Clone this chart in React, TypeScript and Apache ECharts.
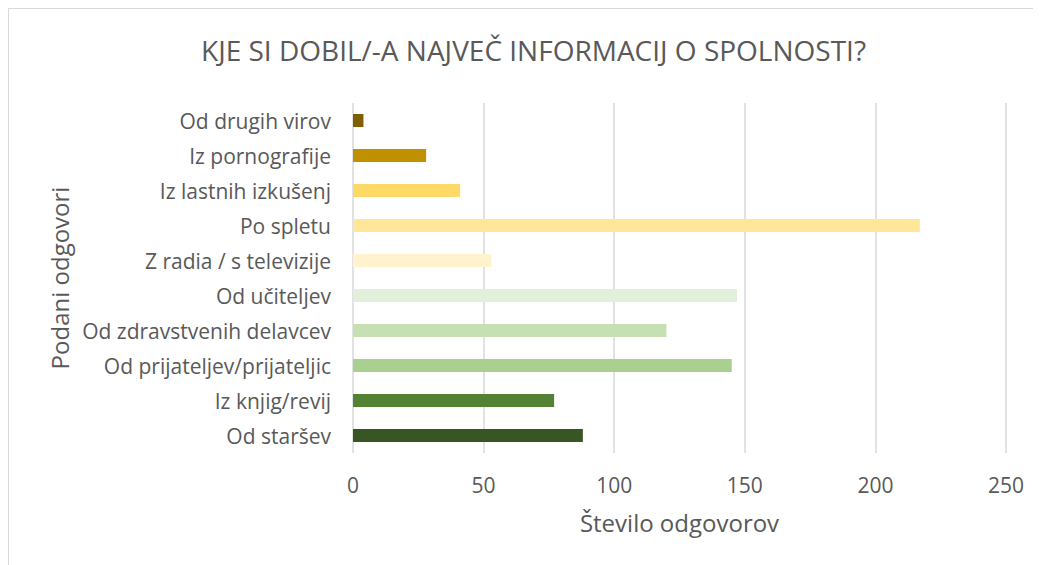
import React, { useEffect, useRef } from "react";
import * as echarts from "echarts";

const categories = [
  "Od drugih virov",
  "Iz pornografije",
  "Iz lastnih izkušenj",
  "Po spletu",
  "Z radia / s televizije",
  "Od učiteljev",
  "Od zdravstvenih delavcev",
  "Od prijateljev/prijateljic",
  "Iz knjig/revij",
  "Od staršev",
];
const values = [4, 28, 41, 217, 53, 147, 120, 145, 77, 88];
const colors = [
  "#7F6000",
  "#BF9000",
  "#FFD966",
  "#FFE699",
  "#FFF2CC",
  "#E2EFDA",
  "#C6E0B4",
  "#A9D08E",
  "#548235",
  "#375623",
];
const titleText = "KJE SI DOBIL/-A NAJVEČ INFORMACIJ O SPOLNOSTI?";
const xName = "Število odgovorov";
const yName = "Podani odgovori";

const FONT = "'Open Sans', sans-serif";

export default function App() {
  const ref = useRef<HTMLDivElement>(null);
  useEffect(() => {
    if (!ref.current) return;
    const chart = echarts.init(ref.current, null, { renderer: "svg" });
    chart.setOption({
      animation: false,
      backgroundColor: "#ffffff",
      title: {
        text: titleText,
        left: 187,
        top: 22,
        textStyle: { fontFamily: FONT, fontSize: 28, fontWeight: "normal", color: "#595959" },
      },
      grid: { left: 344, top: 94, width: 653, height: 350 },
      xAxis: {
        type: "value",
        min: 0,
        max: 250,
        interval: 50,
        name: xName,
        nameLocation: "middle",
        nameGap: 57,
        nameTextStyle: { fontFamily: FONT, fontSize: 24, color: "#595959" },
        axisLine: { show: false },
        axisTick: { show: false },
        axisLabel: { fontFamily: FONT, fontSize: 21, color: "#595959", margin: 21 },
        splitLine: { show: true, lineStyle: { color: "#D9D9D9", width: 1.5 } },
      },
      yAxis: {
        type: "category",
        data: categories,
        inverse: true,
        name: yName,
        nameLocation: "middle",
        nameGap: 282,
        nameRotate: 90,
        nameTextStyle: { fontFamily: FONT, fontSize: 24, color: "#595959" },
        axisLine: { show: false },
        axisTick: { show: false },
        axisLabel: { fontFamily: FONT, fontSize: 21, color: "#595959", margin: 22 },
        splitLine: { show: false },
      },
      series: [
        {
          type: "bar",
          barWidth: 13,
          data: values.map((v, i) => ({ value: v, itemStyle: { color: colors[i] } })),
        },
      ],
    });
    return () => chart.dispose();
  }, []);
  return (
    <div
      style={{
        width: 1033,
        height: 557,
        boxSizing: "border-box",
        borderLeft: "1px solid #D9D9D9",
        borderTop: "1px solid #D9D9D9",
        background: "#fff",
      }}
    >
      <div ref={ref} style={{ width: 1032, height: 556 }} />
    </div>
  );
}
